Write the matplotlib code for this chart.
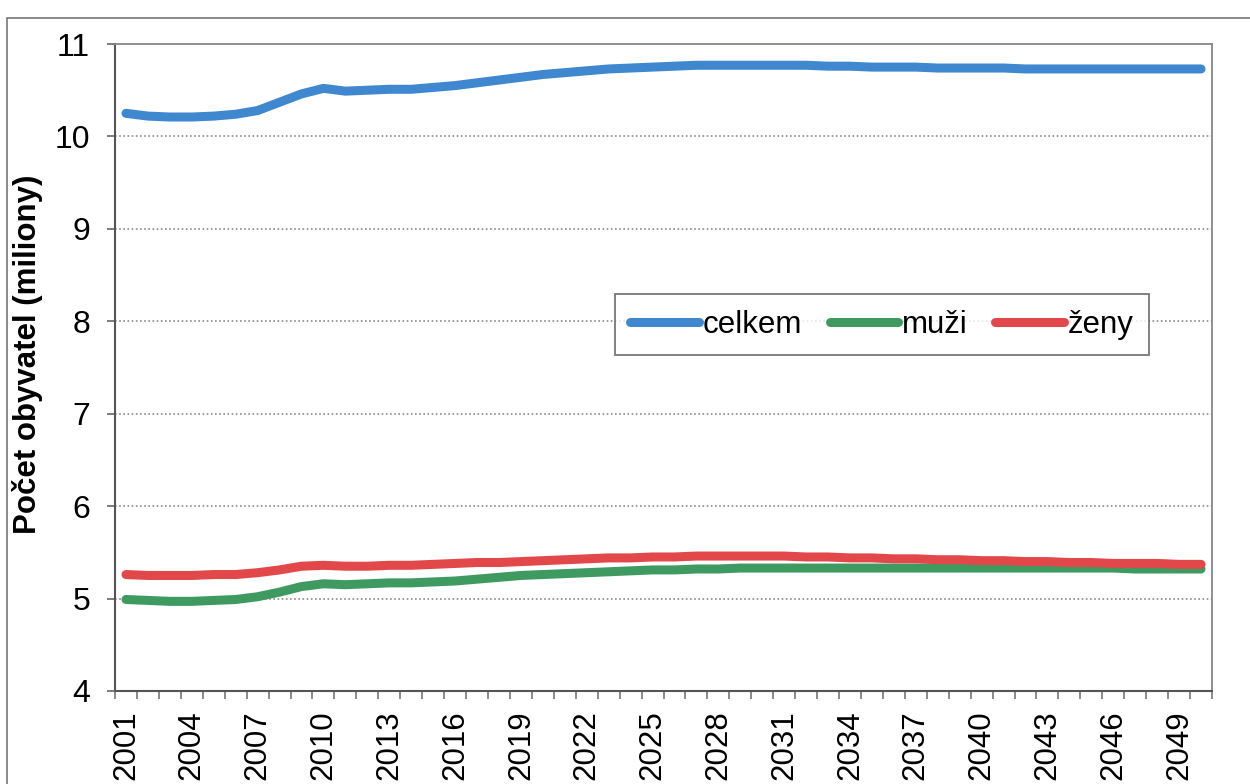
import matplotlib
matplotlib.use("Agg")
import matplotlib.pyplot as plt
from matplotlib.patches import Rectangle
import numpy as np

plt.rcParams['font.family'] = ['Liberation Sans', 'DejaVu Sans']

years = list(range(2001, 2051))
celkem = [10.25, 10.22, 10.21, 10.21, 10.22, 10.24, 10.28, 10.37, 10.46, 10.52,
          10.49, 10.50, 10.51, 10.51, 10.53, 10.55, 10.58, 10.61, 10.64, 10.67,
          10.69, 10.71, 10.73, 10.74, 10.75, 10.76, 10.77, 10.77, 10.77, 10.77,
          10.77, 10.77, 10.76, 10.76, 10.75, 10.75, 10.75, 10.74, 10.74, 10.74,
          10.74, 10.73, 10.73, 10.73, 10.73, 10.73, 10.73, 10.73, 10.73, 10.73]
muzi = [4.99, 4.98, 4.97, 4.97, 4.98, 4.99, 5.02, 5.07, 5.13, 5.16,
        5.15, 5.16, 5.17, 5.17, 5.18, 5.19, 5.21, 5.23, 5.25, 5.26,
        5.27, 5.28, 5.29, 5.30, 5.31, 5.31, 5.32, 5.32, 5.33, 5.33,
        5.33, 5.33, 5.33, 5.33, 5.33, 5.33, 5.33, 5.33, 5.33, 5.33,
        5.33, 5.33, 5.33, 5.33, 5.33, 5.33, 5.32, 5.32, 5.32, 5.32]
zeny = [5.26, 5.25, 5.25, 5.25, 5.26, 5.26, 5.28, 5.31, 5.35, 5.36,
        5.35, 5.35, 5.36, 5.36, 5.37, 5.38, 5.39, 5.39, 5.40, 5.41,
        5.42, 5.43, 5.44, 5.44, 5.45, 5.45, 5.46, 5.46, 5.46, 5.46,
        5.46, 5.45, 5.45, 5.44, 5.44, 5.43, 5.43, 5.42, 5.42, 5.41,
        5.41, 5.40, 5.40, 5.39, 5.39, 5.38, 5.38, 5.38, 5.37, 5.37]
series_names = ['celkem', 'muži', 'ženy']
colors = ['#3f87cf', '#3f9a62', '#e2474a']
y_ticks = [4, 5, 6, 7, 8, 9, 10, 11]

fig = plt.figure(figsize=(12.5, 7.84), dpi=100)
ax = fig.add_axes([115/1250, 1-691/784, (1212-115)/1250, (691-44)/784])

x = np.arange(len(years))
for vals, name, c in zip([celkem, muzi, zeny], series_names, colors):
    ax.plot(x, vals, color=c, lw=6.5, solid_capstyle='round', solid_joinstyle='round', label=name)

ax.set_xlim(-0.5, len(years) - 0.5)
ax.set_ylim(4, 11)
ax.set_yticks(y_ticks)
ax.set_yticklabels([str(v) for v in y_ticks], fontsize=23)
ax.tick_params(axis='y', direction='out', length=6, width=1.2, color='#666666', pad=12)

lab_idx = list(range(0, len(years), 3))
ax.set_xticks(lab_idx)
ax.set_xticklabels([str(years[i]) for i in lab_idx], rotation=90, fontsize=22.5)
ax.tick_params(axis='x', which='major', length=0, pad=14)
ax.set_xticks(np.arange(-0.5, len(years), 1.0), minor=True)
ax.tick_params(axis='x', which='minor', direction='out', length=6, width=1.2, color='#777777')

for yv in y_ticks[1:-1]:
    ax.axhline(yv, color='#8a8a8a', lw=1.2, ls=(0, (1, 1.5)), zorder=0)

for s in ['left', 'bottom']:
    ax.spines[s].set_color('#555555')
    ax.spines[s].set_linewidth(1.5)
for s in ['right', 'top']:
    ax.spines[s].set_color('#888888')
    ax.spines[s].set_linewidth(1.3)

ax.set_ylabel('Počet obyvatel (miliony)', fontsize=22.5, fontweight='bold')
ax.yaxis.set_label_coords(-0.0656, 0.52)

leg = ax.legend(loc='center', bbox_to_anchor=(0.699, 0.566), ncol=3, fontsize=22.5,
                frameon=True, fancybox=False, edgecolor='#555555', handlelength=2.2,
                handletextpad=0.1, columnspacing=0.9, borderpad=0.5)
leg.get_frame().set_linewidth(1.3)

fig.add_artist(Rectangle((7/1250, -0.05), 1.2, 1-18/784+0.05, transform=fig.transFigure,
                         fill=False, edgecolor='#777777', lw=1.2))

fig.savefig('out.png', dpi=100)
